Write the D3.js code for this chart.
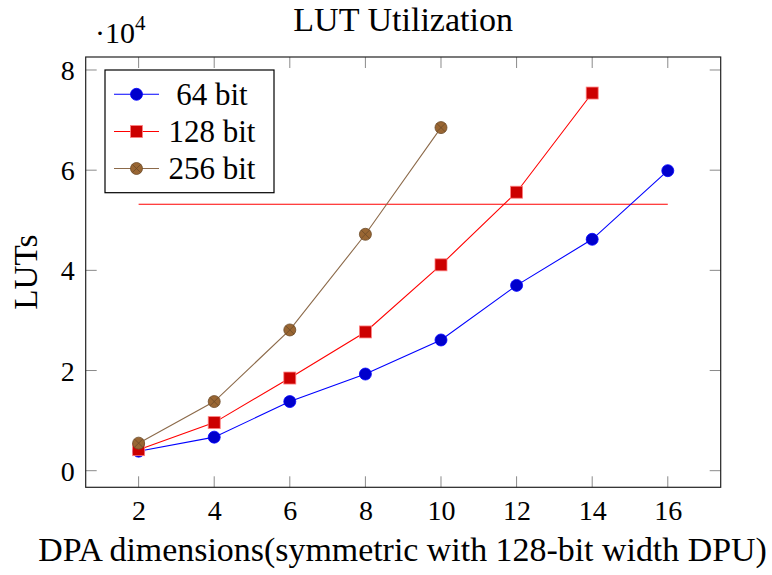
<!DOCTYPE html>
<html><head><meta charset="utf-8">
<script src="https://cdn.jsdelivr.net/npm/d3@7"></script>
</head><body style="margin:0;background:#fff">
<script>
const dims = [2,4,6,8,10,12,14,16];
const bits64 = [3900,6700,13800,19300,26100,37000,46200,59900];
const bits128 = [4200,9600,18500,27700,41100,55600,75400];
const bits256 = [5500,13800,28100,47200,68500];
const refLineValue = 53200;
const refLineX = [2,16];
const xTicks = [2,4,6,8,10,12,14,16];
const yTicks = [0,20000,40000,60000,80000];
const seriesNames = ["64 bit","128 bit","256 bit"];

const FF='"Liberation Serif"';
const W=772,H=575;
const svg=d3.select("body").append("svg").attr("width",W).attr("height",H).style("display","block");
const L=85.7,R=720.7,T=57,B=487.3;
const x=d3.scaleLinear().domain([0.6,17.4]).range([L,R]);
const y=d3.scaleLinear().domain([-3314,82595]).range([B,T]);

function txt(sel,size){return sel.attr("font-family",null).style("font-family",FF).style("font-size",size+"px").attr("fill","#000");}
function fit(sel,w){const n=sel.node();const fs=parseFloat(sel.style("font-size"));const l=n.getComputedTextLength();const s=fs*w/l;sel.style("font-size",s+"px");return s;}

const tk="#8a8a8a";
const g=svg.append("g");
xTicks.forEach(t=>{
  g.append("line").attr("x1",x(t)).attr("x2",x(t)).attr("y1",B).attr("y2",B-11).attr("stroke",tk).attr("stroke-width",1);
  g.append("line").attr("x1",x(t)).attr("x2",x(t)).attr("y1",T).attr("y2",T+11).attr("stroke",tk).attr("stroke-width",1);
});
yTicks.forEach(t=>{
  g.append("line").attr("x1",L).attr("x2",L+11).attr("y1",y(t)).attr("y2",y(t)).attr("stroke",tk).attr("stroke-width",1);
  g.append("line").attr("x1",R).attr("x2",R-11).attr("y1",y(t)).attr("y2",y(t)).attr("stroke",tk).attr("stroke-width",1);
});
const xa=svg.append("g").attr("transform",`translate(0,${B})`).call(d3.axisBottom(x).tickValues(xTicks).tickSize(0).tickPadding(0).tickFormat(d3.format("d")));
xa.select(".domain").remove();
xa.attr("font-family",null).attr("font-size",null);
txt(xa.selectAll("text"),28).attr("dy",0).attr("y",33);
const ya=svg.append("g").attr("transform",`translate(${L},0)`).call(d3.axisLeft(y).tickValues(yTicks).tickSize(0).tickPadding(0).tickFormat(d=>d/10000));
ya.select(".domain").remove();
ya.attr("font-family",null).attr("font-size",null);
txt(ya.selectAll("text"),28).attr("x",-11).attr("dy","0.34em");

svg.append("rect").attr("x",L).attr("y",T).attr("width",R-L).attr("height",B-T).attr("fill","none").attr("stroke","#222").attr("stroke-width",1.2);

const m=txt(svg.append("text").attr("x",95).attr("y",43),30);
m.append("tspan").text("·10");
m.append("tspan").style("font-size","21px").attr("dy",-13).text("4");

const tt=txt(svg.append("text").attr("x",(L+R)/2).attr("y",31).attr("text-anchor","middle"),30).text("LUT Utilization");
fit(tt,220);
const xl=txt(svg.append("text").attr("x",402.5).attr("y",561).attr("text-anchor","middle"),28).text("DPA dimensions(symmetric with 128-bit width DPU)");
fit(xl,729);
const yl=txt(svg.append("text").attr("transform",`translate(37,${(T+B)/2}) rotate(-90)`).attr("text-anchor","middle"),28).text("LUTs");
fit(yl,75);

svg.append("line").attr("x1",x(refLineX[0])).attr("x2",x(refLineX[1])).attr("y1",y(refLineValue)).attr("y2",y(refLineValue)).attr("stroke","#ff0000").attr("stroke-width",1.2);

const styles=[
 {line:"#0000ff",fill:"#0000cc",stroke:"#0000ff",mark:"circle"},
 {line:"#ff0000",fill:"#cc0000",stroke:"#ff8080",mark:"square"},
 {line:"#8c6a4a",fill:"#996633",stroke:"#6b4a28",mark:"otimes"}];
const data=[bits64,bits128,bits256];
const lineGen=d3.line().x(d=>x(d[0])).y(d=>y(d[1]));

function mark(gg,cx,cy,s){
  if(s.mark==="circle"){gg.append("circle").attr("cx",cx).attr("cy",cy).attr("r",6).attr("fill",s.fill).attr("stroke",s.stroke).attr("stroke-width",0.8);}
  else if(s.mark==="square"){gg.append("rect").attr("x",cx-6).attr("y",cy-6).attr("width",12).attr("height",12).attr("fill",s.fill).attr("stroke",s.stroke).attr("stroke-width",0.8);}
  else{gg.append("circle").attr("cx",cx).attr("cy",cy).attr("r",6).attr("fill",s.fill).attr("stroke",s.stroke).attr("stroke-width",0.8);
    const d=6/Math.SQRT2;
    gg.append("path").attr("d",`M${cx-d},${cy-d}L${cx+d},${cy+d}M${cx-d},${cy+d}L${cx+d},${cy-d}`).attr("stroke",s.stroke).attr("stroke-width",0.8);}
}
data.forEach((vals,i)=>{
  const pts=vals.map((v,j)=>[dims[j],v]);
  const s=styles[i];
  svg.append("path").attr("d",lineGen(pts)).attr("fill","none").attr("stroke",s.line).attr("stroke-width",1.1);
});
data.forEach((vals,i)=>{
  const s=styles[i];const gg=svg.append("g");
  vals.forEach((v,j)=>mark(gg,x(dims[j]),y(v),s));
});

svg.append("rect").attr("x",105).attr("y",70).attr("width",169).attr("height",122.7).attr("fill","#fff").attr("stroke","#000").attr("stroke-width",1.2);
const ly=[94.3,131.5,168.5];
const legTexts=[];
seriesNames.forEach((n,i)=>{
  const s=styles[i];
  svg.append("line").attr("x1",114).attr("x2",159).attr("y1",ly[i]).attr("y2",ly[i]).attr("stroke",s.line).attr("stroke-width",1.1);
  mark(svg.append("g"),136.5,ly[i],s);
  legTexts.push(txt(svg.append("text").attr("x",212).attr("y",ly[i]).attr("dy","0.34em").attr("text-anchor","middle"),29).text(n));
});
const lfs=Math.min(31,fit(legTexts[1],90));
legTexts.forEach(t=>t.style("font-size",lfs+"px"));
</script>
</body></html>
